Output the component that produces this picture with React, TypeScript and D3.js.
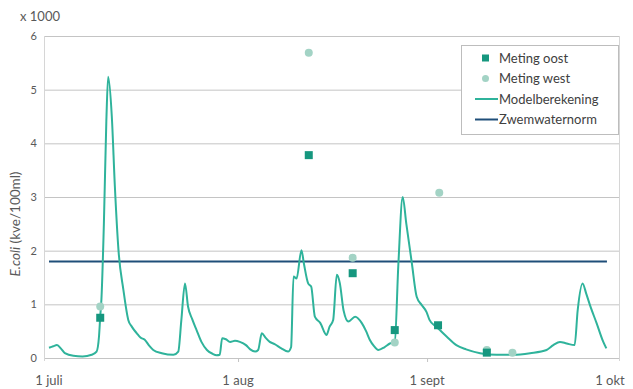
import React, { useEffect, useRef } from 'react';
import * as d3 from 'd3';

// days counted from 1 juli, values in x 1000 kve/100ml
const modelDays = [
  0, 0.7, 1.3, 2, 2.6, 4, 5.5, 7, 7.8, 8.2, 8.4, 8.6, 9, 9.4, 9.7, 10.3, 10.8, 11.4, 12.2, 13,
  13.6, 14.4, 15, 15.7, 16.5, 17.1, 18.5, 20.4, 21.2, 21.7, 22.3, 22.8, 23.5, 24.2, 25, 25.9,
  26.8, 27.5, 28, 28.4, 29, 29.7, 30.5, 31.3, 32.3, 33, 33.8, 34.3, 34.9, 35.5, 36.2, 37, 38.1,
  39.2, 39.7, 40.1, 40.6, 41.4, 41.8, 42.5, 43, 43.6, 44.5, 45.5, 46, 46.6, 47.2, 47.7, 48.3,
  49.1, 50.2, 51.3, 52, 52.6, 53.3, 54, 55, 55.9, 56.7, 57.3, 58, 58.6, 59.5, 60.3, 61.1, 61.9,
  62.4, 63.3, 64.1, 65.2, 66.8, 68.4, 70.7, 73.4, 76.1, 78.9, 81.6, 82.7, 83.8, 84.9, 86.2,
  86.7, 87.5, 88.1, 88.7, 89.8, 90.9, 91.4,
];
const modelValues = [
  0.19, 0.22, 0.24, 0.17, 0.09, 0.04, 0.03, 0.06, 0.12, 0.4, 0.77, 1.1, 2.5, 4.4, 5.24, 4.5, 3.2,
  2.0, 1.27, 0.71, 0.58, 0.46, 0.38, 0.34, 0.22, 0.15, 0.09, 0.06, 0.12, 0.7, 1.39, 0.96, 0.72,
  0.52, 0.3, 0.15, 0.08, 0.05, 0.06, 0.37, 0.35, 0.3, 0.32, 0.3, 0.24, 0.16, 0.12, 0.15, 0.46,
  0.38, 0.3, 0.26, 0.18, 0.12, 0.2, 1.52, 1.48, 2.01, 1.76, 1.39, 1.33, 0.77, 0.65, 0.43, 0.58,
  0.71, 1.55, 1.39, 0.89, 0.68, 0.77, 0.65, 0.5, 0.34, 0.22, 0.15, 0.2, 0.27, 0.3, 1.76, 3.0,
  2.5, 1.77, 1.14, 0.99, 0.86, 0.71, 0.6, 0.52, 0.4, 0.24, 0.16, 0.09, 0.06, 0.06, 0.09, 0.15,
  0.24, 0.3, 0.27, 0.24, 0.89, 1.39, 1.2, 0.99, 0.65, 0.3, 0.18,
];

const oostDays = [8.4, 42.6, 49.8, 56.7, 63.8, 71.8];
const oostValues = [0.75, 3.78, 1.58, 0.52, 0.61, 0.1];
const westDays = [8.4, 42.6, 49.8, 56.7, 64, 71.8, 76];
const westValues = [0.96, 5.69, 1.87, 0.29, 3.08, 0.15, 0.1];

const normDays = [0, 91.5];
const normValue = 1.8;

const yTicks = [0, 1, 2, 3, 4, 5, 6];
const xTickDays = [0, 31, 62, 92];
const xTickLabels = ['1 juli', '1 aug', '1 sept', '1 okt'];

const legendItems = ['Meting oost', 'Meting west', 'Modelberekening', 'Zwemwaternorm'];

const FONT = 'Lato, "Open Sans", sans-serif';
const C_MODEL = '#2fb39b';
const C_OOST = '#16977f';
const C_WEST = '#a3d3c5';
const C_NORM = '#1f4e79';
const C_GRID = '#c4c4c4';
const C_TEXT = '#595959';

const Chart: React.FC<{ width?: number; height?: number }> = ({ width = 633, height = 389 }) => {
  const svgRef = useRef<SVGSVGElement>(null);

  useEffect(() => {
    if (!svgRef.current) return;
    const svg = d3.select(svgRef.current);
    svg.selectAll('*').remove();
    svg.attr('width', width).attr('height', height);

    svg.append('rect').attr('width', width).attr('height', height).attr('fill', '#fff');

    const plotLeft = 44;
    const plotRight = 619;
    const x = d3.scaleLinear().domain([0, 92]).range([49, 610]);
    const y = d3.scaleLinear().domain([0, 6]).range([358, 36]);

    // horizontal gridlines
    svg
      .append('g')
      .selectAll('line')
      .data(yTicks)
      .join('line')
      .attr('x1', plotLeft)
      .attr('x2', plotRight)
      .attr('y1', (d) => y(d) + 0.5)
      .attr('y2', (d) => y(d) + 0.5)
      .attr('stroke', C_GRID)
      .attr('stroke-width', 1);

    // side borders
    [plotLeft, plotRight].forEach((px) => {
      svg
        .append('line')
        .attr('x1', px + 0.5)
        .attr('x2', px + 0.5)
        .attr('y1', y(6))
        .attr('y2', y(0) + 3)
        .attr('stroke', '#d6d6d6');
    });

    // x ticks on axis
    svg
      .append('g')
      .selectAll('line')
      .data(xTickDays.slice(1, 3))
      .join('line')
      .attr('x1', (d) => x(d) + 0.5)
      .attr('x2', (d) => x(d) + 0.5)
      .attr('y1', y(0))
      .attr('y2', y(0) + 4)
      .attr('stroke', C_GRID);

    // y tick labels
    svg
      .append('g')
      .selectAll('text')
      .data(yTicks)
      .join('text')
      .attr('x', 37)
      .attr('y', (d) => y(d) + 4)
      .attr('text-anchor', 'end')
      .attr('font-family', FONT)
      .attr('font-size', 11)
      .attr('fill', C_TEXT)
      .text((d) => d);

    svg
      .append('text')
      .attr('x', 20)
      .attr('y', 21)
      .attr('font-family', FONT)
      .attr('font-size', 13)
      .attr('fill', C_TEXT)
      .text('x 1000');

    // x tick labels
    svg
      .append('g')
      .selectAll('text')
      .data(xTickDays)
      .join('text')
      .attr('x', (d) => x(d))
      .attr('y', 385)
      .attr('text-anchor', 'middle')
      .attr('font-family', FONT)
      .attr('font-size', 13)
      .attr('fill', C_TEXT)
      .text((_, i) => xTickLabels[i]);

    // y axis title
    const title = svg
      .append('text')
      .attr('transform', 'translate(20,224) rotate(-90)')
      .attr('text-anchor', 'middle')
      .attr('font-family', FONT)
      .attr('font-size', 13.5)
      .attr('fill', C_TEXT);
    title.append('tspan').attr('font-style', 'italic').text('E.coli');
    title.append('tspan').text(' (kve/100ml)');

    // norm line
    svg
      .append('line')
      .attr('x1', x(normDays[0]))
      .attr('x2', x(normDays[1]))
      .attr('y1', y(normValue))
      .attr('y2', y(normValue))
      .attr('stroke', C_NORM)
      .attr('stroke-width', 2);

    // model line
    const line = d3
      .line<number>()
      .x((d) => x(d))
      .y((_, i) => y(modelValues[i]))
      .curve(d3.curveMonotoneX);

    svg
      .append('path')
      .datum(modelDays)
      .attr('fill', 'none')
      .attr('stroke', C_MODEL)
      .attr('stroke-width', 2)
      .attr('stroke-linejoin', 'round')
      .attr('d', line);

    // measurements
    svg
      .append('g')
      .selectAll('circle')
      .data(westDays)
      .join('circle')
      .attr('cx', (d) => x(d))
      .attr('cy', (_, i) => y(westValues[i]))
      .attr('r', 4)
      .attr('fill', C_WEST);

    svg
      .append('g')
      .selectAll('rect')
      .data(oostDays)
      .join('rect')
      .attr('x', (d) => x(d) - 4)
      .attr('y', (_, i) => y(oostValues[i]) - 4)
      .attr('width', 8)
      .attr('height', 8)
      .attr('fill', C_OOST);

    // legend
    const lg = svg.append('g').attr('transform', 'translate(461,45)');
    lg.append('rect')
      .attr('x', 0.5)
      .attr('y', 0.5)
      .attr('width', 157)
      .attr('height', 89)
      .attr('fill', '#fff')
      .attr('stroke', '#bdbdbd');

    legendItems.forEach((label, i) => {
      const cy = 13 + i * 20.5;
      if (i === 0) {
        lg.append('rect').attr('x', 21).attr('y', cy - 3.5).attr('width', 7).attr('height', 7).attr('fill', C_OOST);
      } else if (i === 1) {
        lg.append('circle').attr('cx', 24.5).attr('cy', cy).attr('r', 3.5).attr('fill', C_WEST);
      } else {
        lg.append('line')
          .attr('x1', 14)
          .attr('x2', 37)
          .attr('y1', cy)
          .attr('y2', cy)
          .attr('stroke', i === 2 ? C_MODEL : C_NORM)
          .attr('stroke-width', 2);
      }
      lg.append('text')
        .attr('x', 38)
        .attr('y', cy + 4.5)
        .attr('font-family', FONT)
        .attr('font-size', 13)
        .attr('fill', '#404040')
        .text(label);
    });
  }, [width, height]);

  return <svg ref={svgRef} style={{ position: 'absolute', left: 0, top: 0 }} />;
};

export default function App() {
  return <Chart />;
}
